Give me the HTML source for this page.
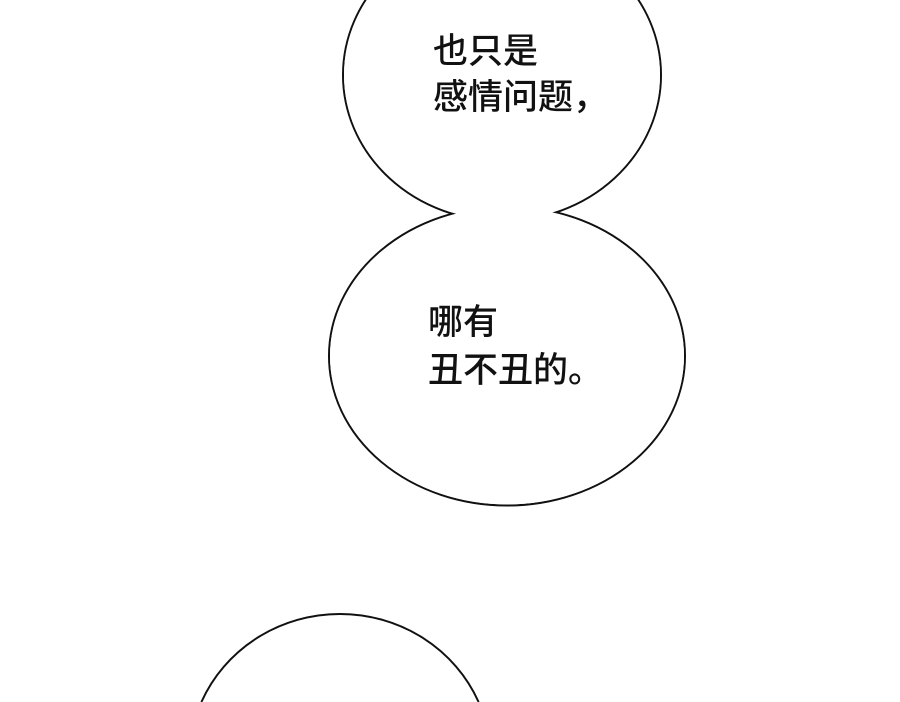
<!DOCTYPE html>
<html><head><meta charset="utf-8"><style>
html,body{margin:0;padding:0;background:#fff;width:900px;height:702px;overflow:hidden;}
svg{display:block}
text{font-family:"Liberation Sans","Noto Sans CJK SC",sans-serif;font-size:35px;font-weight:500;fill:#111;}
</style></head><body>
<svg width="900" height="702" viewBox="0 0 900 702" xmlns="http://www.w3.org/2000/svg">
<rect width="900" height="702" fill="#fff"/>
<g stroke="#111" stroke-width="2" fill="#fff">
<ellipse cx="502" cy="75" rx="159" ry="146"/>
<ellipse cx="507" cy="356" rx="178" ry="149.5"/>
<path d="M201.4 702 A151 146 0 0 1 478.6 702"/>
</g>
<g fill="#fff" stroke="none">
<ellipse cx="502" cy="75" rx="158" ry="145"/>
<ellipse cx="507" cy="356" rx="177" ry="148.5"/>
</g>
<text x="433" y="63">也只是</text>
<text x="433" y="109">感情问题，</text>
<text x="428" y="334">哪有</text>
<text x="428" y="382">丑不丑的。</text>
</svg>
</body></html>
